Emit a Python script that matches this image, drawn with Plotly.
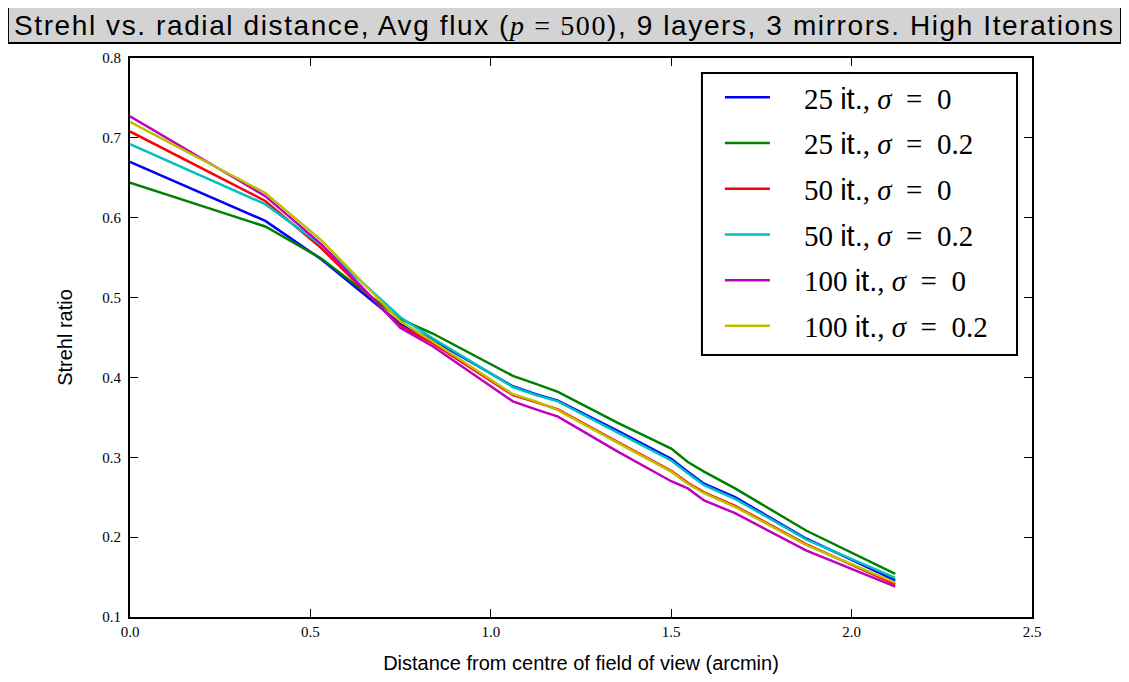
import plotly.graph_objects as go

distance = [0.0, 0.375, 0.530, 0.75, 0.839, 1.061, 1.125, 1.186, 1.352, 1.5, 1.546, 1.591, 1.677, 1.875, 2.121]

s25_0 = [0.670, 0.596, 0.548, 0.467, 0.447, 0.389, 0.379, 0.371, 0.333, 0.298, 0.282, 0.267, 0.250, 0.198, 0.146]
s25_02 = [0.644, 0.589, 0.549, 0.473, 0.455, 0.402, 0.392, 0.382, 0.343, 0.311, 0.294, 0.282, 0.261, 0.208, 0.154]
s50_0 = [0.708, 0.621, 0.562, 0.464, 0.443, 0.378, 0.369, 0.360, 0.319, 0.283, 0.268, 0.256, 0.239, 0.191, 0.141]
s50_02 = [0.692, 0.617, 0.566, 0.475, 0.449, 0.388, 0.378, 0.370, 0.331, 0.296, 0.280, 0.265, 0.248, 0.197, 0.149]
s100_0 = [0.727, 0.627, 0.567, 0.462, 0.439, 0.370, 0.360, 0.351, 0.307, 0.270, 0.261, 0.246, 0.230, 0.183, 0.138]
s100_02 = [0.720, 0.631, 0.572, 0.470, 0.445, 0.379, 0.370, 0.359, 0.318, 0.282, 0.267, 0.255, 0.238, 0.190, 0.143]

iters = ["25", "25", "50", "50", "100", "100"]
sigmas = ["0", "0.2", "0", "0.2", "0", "0.2"]
colors = ["#0000ff", "#008000", "#ff0000", "#00bfbf", "#bf00bf", "#bfbf00"]
series = [s25_0, s25_02, s50_0, s50_02, s100_0, s100_02]

x_ticks = [0.0, 0.5, 1.0, 1.5, 2.0, 2.5]
y_ticks = [0.1, 0.2, 0.3, 0.4, 0.5, 0.6, 0.7, 0.8]

fig = go.Figure()
for i, (it, sg, col, ys) in enumerate(zip(iters, sigmas, colors, series)):
    name = (f'\u2003{it} <span style="font-family:Liberation Sans">it.</span>, '
            f'<i>σ</i>\u2002=\u2002{sg}')
    fig.add_trace(go.Scatter(
        x=distance, y=ys, mode="lines", name=name,
        line=dict(color=col, width=2.5), legendgroup=f"g{i}"))

fig.update_layout(
    width=1121, height=674,
    margin=dict(l=122, r=97, t=50, b=65),
    paper_bgcolor="white", plot_bgcolor="white",
    showlegend=True,
    legend=dict(
        x=0.654, y=0.975, xanchor="left", yanchor="top",
        borderwidth=0, bgcolor="rgba(0,0,0,0)",
        font=dict(family="Liberation Serif", size=29, color="black"),
        tracegroupgap=5, itemwidth=45,
    ),
    xaxis=dict(
        range=[0, 2.5], tickvals=x_ticks, ticktext=[f"{v:.1f}" for v in x_ticks],
        ticks="inside", ticklen=8, tickwidth=1, tickcolor="black",
        showline=True, linewidth=2, linecolor="black", mirror="allticks",
        showgrid=False, zeroline=False,
        tickfont=dict(family="Liberation Serif", size=15, color="black"),
        title=dict(text="Distance from centre of field of view (arcmin)",
                   font=dict(family="Liberation Sans", size=20, color="black"),
                   standoff=17),
    ),
    yaxis=dict(
        range=[0.1, 0.8], tickvals=y_ticks, ticktext=[f"{v:.1f}" for v in y_ticks],
        ticks="inside", ticklen=8, tickwidth=1, tickcolor="black",
        showline=True, linewidth=2, linecolor="black", mirror="allticks",
        showgrid=False, zeroline=False, ticklabelstandoff=4,
        tickfont=dict(family="Liberation Serif", size=15, color="black"),
        title=dict(text="Strehl ratio",
                   font=dict(family="Liberation Sans", size=20, color="black"),
                   standoff=24),
    ),
)

# legend frame
fig.add_shape(type="rect", xref="paper", yref="paper",
              x0=0.6341, x1=0.9834, y0=0.4687, y1=0.9732,
              line=dict(color="black", width=2), fillcolor="white", layer="above")

# title box
fig.add_shape(type="rect", xref="paper", yref="paper",
              x0=-0.1353, x1=1.0987, y0=1.0268, y1=1.093,
              line=dict(color="black", width=2), fillcolor="#d3d3d3", layer="below")
fig.add_annotation(
    xref="paper", yref="paper", x=(1.0987 - 0.1353) / 2, y=1.058, showarrow=False,
    xanchor="center", yanchor="middle",
    text=('<span style="letter-spacing:1.6px">Strehl vs. radial distance, Avg flux '
          '(<span style="font-family:Liberation Serif"><i>p</i> = 500</span>), '
          '9 layers, 3 mirrors. High Iterations</span>'),
    font=dict(family="Liberation Sans", size=28, color="black"))

fig.write_html("out.html")
